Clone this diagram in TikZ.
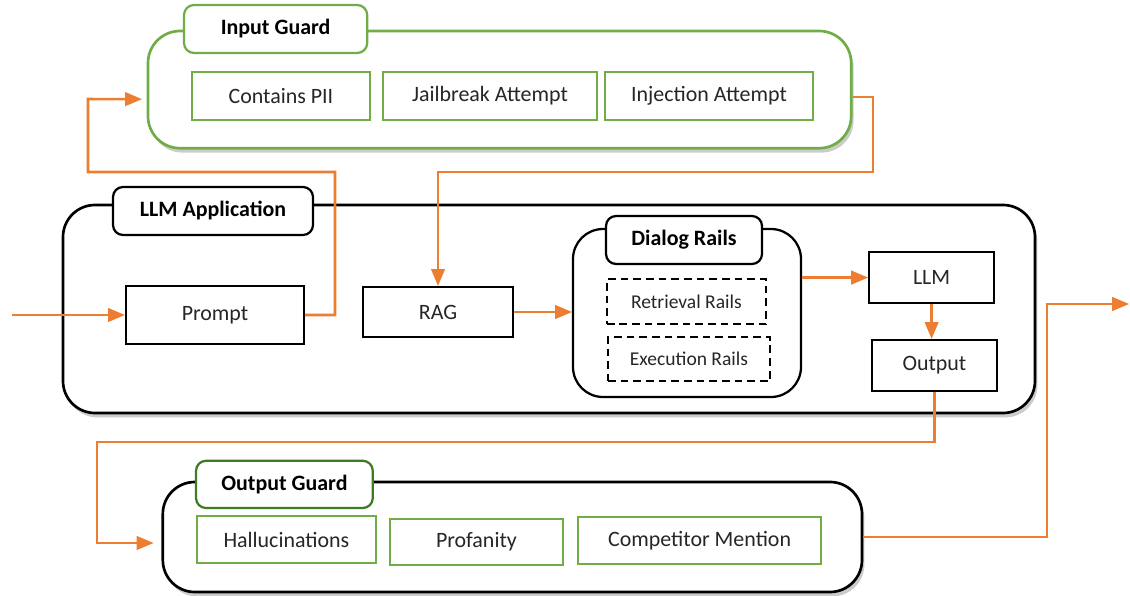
\documentclass[tikz,border=0pt]{standalone}
\usepackage{fontspec}
\setmainfont{Carlito}
\usepackage{tikz}
\usetikzlibrary{arrows}
\usetikzlibrary{shadows}
\definecolor{guardgreen}{HTML}{70AD47}
\definecolor{darkguard}{HTML}{3E7B27}
\definecolor{flowline}{HTML}{ED7D31}
\pgfdeclarelayer{boxlayer}
\pgfdeclarelayer{edgelayer}
\pgfdeclarelayer{nodelayer}
\pgfsetlayers{boxlayer,edgelayer,nodelayer,main}
\tikzset{
	frame/.style={draw, fill=white, rounded corners=0.8cm, line width=1.9pt,
		drop shadow={shadow xshift=0.06cm, shadow yshift=-0.11cm, opacity=0.4}},
	group/.style={draw, fill=white, rounded corners=0.75cm, line width=1.6pt},
	tab/.style={draw, fill=white, rounded corners=0.25cm, line width=1.6pt,
		font=\fontsize{15.6}{18}\selectfont\bfseries},
	box/.style={draw, fill=white, line width=1.7pt, text=black!85,
		font=\fontsize{15.6}{18}\selectfont},
	check/.style={box, draw=guardgreen, line width=1.8pt},
	rail/.style={box, dash pattern=on 5.5pt off 3.5pt, font=\fontsize{13.9}{16}\selectfont},
	flow/.style={draw=flowline, line width=1.8pt, -triangle 45},
}
\begin{document}
\begin{tikzpicture}
	\useasboundingbox (0,0) rectangle (28.25,-14.9);
	\begin{pgfonlayer}{boxlayer}
		\node [frame, draw=guardgreen, minimum width=17.58cm, minimum height=2.93cm] (0) at (12.49, -2.24) {};
		\node [tab, draw=guardgreen, minimum width=4.58cm, minimum height=1.2cm] (1) at (6.89, -0.725) {Input Guard};
		\node [frame, minimum width=24.3cm, minimum height=5.2cm] (2) at (13.725, -7.725) {};
		\node [tab, minimum width=5cm, minimum height=1.2cm] (3) at (5.325, -5.275) {LLM Application};
		\node [group, minimum width=5.7cm, minimum height=4.2cm] (4) at (17.175, -7.825) {};
		\node [tab, minimum width=3.9cm, minimum height=1.2cm] (5) at (17.1, -6) {Dialog Rails};
		\node [frame, minimum width=17.48cm, minimum height=2.75cm] (6) at (12.81, -13.425) {};
		\node [tab, draw=darkguard, minimum width=4.42cm, minimum height=1.18cm] (7) at (7.11, -12.11) {Output Guard};
	\end{pgfonlayer}
	\begin{pgfonlayer}{nodelayer}
		\node [check, minimum width=4.45cm, minimum height=1.2cm] (8) at (7.025, -2.4) {Contains PII};
		\node [check, minimum width=5.35cm, minimum height=1.2cm] (9) at (12.25, -2.4) {Jailbreak Attempt};
		\node [check, minimum width=5.2cm, minimum height=1.2cm] (10) at (17.725, -2.4) {Injection Attempt};
		\node [box, minimum width=4.45cm, minimum height=1.45cm] (11) at (5.375, -7.875) {Prompt};
		\node [box, minimum width=3.75cm, minimum height=1.25cm] (12) at (10.95, -7.8) {RAG};
		\node [rail, minimum width=3.98cm, minimum height=1.12cm] (13) at (17.16, -7.54) {Retrieval Rails};
		\node [rail, minimum width=4.05cm, minimum height=1.1cm] (14) at (17.225, -8.975) {Execution Rails};
		\node [box, minimum width=3.12cm, minimum height=1.28cm] (15) at (23.29, -6.94) {LLM};
		\node [box, minimum width=3.12cm, minimum height=1.28cm] (16) at (23.36, -9.14) {Output};
		\node [check, minimum width=4.48cm, minimum height=1.18cm] (17) at (7.16, -13.49) {Hallucinations};
		\node [check, minimum width=4.32cm, minimum height=1.15cm] (18) at (11.91, -13.55) {Profanity};
		\node [check, minimum width=6.08cm, minimum height=1.18cm] (19) at (17.49, -13.51) {Competitor Mention};
		\coordinate (20) at (0.3, -7.875);
		\coordinate (21) at (28.225, -7.6);
	\end{pgfonlayer}
	\begin{pgfonlayer}{edgelayer}
		\draw [flow] (20) -- (11.west);
		\draw [flow, shorten >=0.12cm] (11.east) -| (8.375, -4.3) -| (2.2, -2.475) -- ([yshift=-0.24cm]0.west);
		\draw [flow] ([yshift=-0.19cm]0.east) -| (21.825, -4.3) -| (12.north);
		\draw [flow] (12.east) -- (4.west |- 12.east);
		\draw [flow] (4.east |- 15.west) -- (15.west);
		\draw [flow] (15.south) -- (15.south |- 16.north);
		\draw [flow, shorten >=0.2cm] (16.south) |- (2.425, -11.05) |- ([yshift=-0.15cm]6.west);
		\draw [flow] (6.east) -| (26.175, -7.6) -- (21);
	\end{pgfonlayer}
\end{tikzpicture}
\end{document}
